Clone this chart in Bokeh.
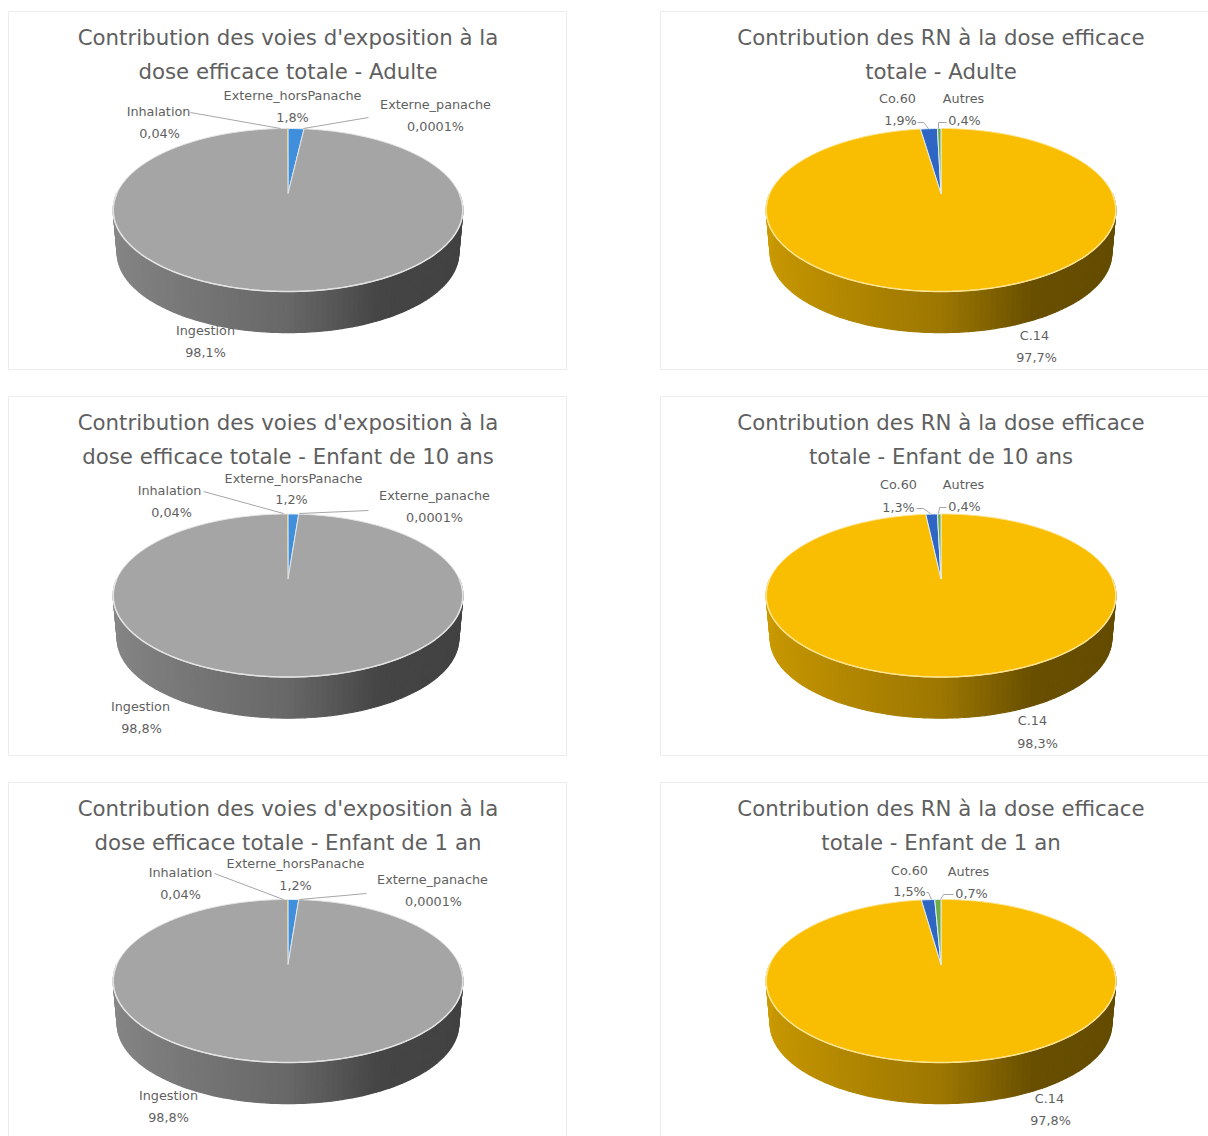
import math

from bokeh.core.properties import value
from bokeh.embed import file_html
from bokeh.models import ColumnDataSource, Range1d
from bokeh.plotting import figure
from bokeh.resources import INLINE

# ---- data -----------------------------------------------------------------
voies = ["Externe_horsPanache", "Externe_panache", "Ingestion", "Inhalation"]
voies_adulte = [1.8, 0.0001, 98.1, 0.04]
voies_enfant10 = [1.2, 0.0001, 98.8, 0.04]
voies_enfant1 = [1.2, 0.0001, 98.8, 0.04]
voies_couleurs = ["#3f8fdc", "#ed7d31", "#a5a5a5", "#ffc000"]

rn = ["C.14", "Co.60", "Autres"]
rn_adulte = [97.7, 1.9, 0.4]
rn_enfant10 = [98.3, 1.3, 0.4]
rn_enfant1 = [97.8, 1.5, 0.7]
rn_couleurs = ["#f9bd02", "#2f66c4", "#70ad47"]

titres_voies = [
    ("Contribution des voies d'exposition à la", "dose efficace totale - Adulte"),
    ("Contribution des voies d'exposition à la", "dose efficace totale - Enfant de 10 ans"),
    ("Contribution des voies d'exposition à la", "dose efficace totale - Enfant de 1 an"),
]
titres_rn = [
    ("Contribution des RN à la dose efficace", "totale - Adulte"),
    ("Contribution des RN à la dose efficace", "totale - Enfant de 10 ans"),
    ("Contribution des RN à la dose efficace", "totale - Enfant de 1 an"),
]

# ---- layout ---------------------------------------------------------------
W, H = 1208, 1136
ROW_DY = [0, 385.5, 771]
TITLE_Y = [[37, 71], [422, 456], [808, 842]]
COL_VOIES = dict(cx=287.5, x0=8, x1=566)
COL_RN = dict(cx=940.5, x0=660, x1=1208)
PANEL_Y = [(11, 369), (396, 755), (782, 1136)]

# label anchors per row: name -> (x, name y, x of the value, value y)
LABELS_VOIES = [
    {"Inhalation": (158, 111, 159, 133), "Externe_horsPanache": (292, 95, 292, 117),
     "Externe_panache": (435, 104, 435, 126), "Ingestion": (205, 330, 205, 352)},
    {"Inhalation": (169, 490, 171, 512), "Externe_horsPanache": (293, 478, 291, 499),
     "Externe_panache": (434, 495, 434, 517), "Ingestion": (140, 706, 141, 728)},
    {"Inhalation": (180, 872, 180, 894), "Externe_horsPanache": (295, 863, 295, 885),
     "Externe_panache": (432, 879, 433, 901), "Ingestion": (168, 1095, 168, 1117)},
]
LABELS_RN = [
    {"Co.60": (897, 98, 900, 120), "Autres": (963, 98, 964, 120), "C.14": (1034, 335, 1036, 357)},
    {"Co.60": (898, 484, 898, 507), "Autres": (963, 484, 964, 506), "C.14": (1032, 720, 1037, 743)},
    {"Co.60": (909, 870, 909, 891), "Autres": (968, 871, 971, 893), "C.14": (1049, 1098, 1050, 1120)},
]
LEADERS_VOIES = [
    [([190, 280], [112, 128]), ([368, 303], [117, 128])],
    [([203, 283], [491, 513]), ([368, 299], [510, 513])],
    [([214, 283], [873, 899]), ([366, 299], [893, 899])],
]
LEADERS_RN = [
    [([917, 923, 928], [122, 122, 128]), ([946, 938, 938], [122, 122, 128])],
    [([916, 923, 930], [508, 508, 513]), ([946, 939, 938], [507, 507, 513])],
    [([926, 928, 931], [892, 892, 899]), ([953, 943, 940], [894, 894, 899])],
]

TEXT_COLOR = "#5f5f5f"
FONT = "DejaVu Sans"

# ---- perspective disc ------------------------------------------------------
APEX_Y = 193.0
PERSP = 0.2025
DEPTH = 39.1
HALF = 171.2
SIDE_SCALE = 0.977
SIDE_DROP = 43.0
MID_Y = 209.5
SIDE_STOPS = [(0.0, 0.82), (0.5, 0.63), (0.72, 0.42), (1.0, 0.40)]


def rim(theta, cx, dy):
    """Project an angle, clockwise from twelve o'clock, onto the tilted disc."""
    u, v = math.sin(theta), math.cos(theta)
    w = 1 + PERSP * v
    return cx + HALF * u / w, (APEX_Y - DEPTH * v) / w + dy


def shade(base, factor):
    r, g, b = (int(base[i:i + 2], 16) for i in (1, 3, 5))
    return "#%02x%02x%02x" % (int(r * factor), int(g * factor), int(b * factor))


def side_factor(t):
    for (t0, f0), (t1, f1) in zip(SIDE_STOPS, SIDE_STOPS[1:]):
        if t <= t1:
            return f0 + (f1 - f0) * (t - t0) / (t1 - t0)
    return SIDE_STOPS[-1][1]


def fmt(v):
    return f"{v:g}".replace(".", ",") + "%"


p = figure(width=W, height=H, output_backend="svg", toolbar_location=None,
           x_range=Range1d(0, W), y_range=Range1d(H, 0), min_border=0)
p.axis.visible = False
p.grid.visible = False
p.outline_line_color = None
p.background_fill_color = "white"
p.border_fill_color = "white"


def draw_pie(names, values, colors, cx, dy, labels, leaders, titles, title_y, col, panel, rim_tint):
    # panel frame: the right column runs off the page, the last row too
    x0, x1 = col["x0"], col["x1"]
    y0, y1 = panel
    p.quad(left=[x0], right=[x1], top=[y0], bottom=[y1], fill_color="white",
           line_color="#ececec", line_width=1)

    total = sum(values)
    big = max(range(len(values)), key=lambda i: values[i])

    # front wall of the disc, split into narrow shaded strips
    xs, ys, fills = [], [], []
    steps = 120
    for i in range(steps):
        a0 = math.pi / 2 + math.pi * i / steps
        a1 = math.pi / 2 + math.pi * (i + 1) / steps
        (xa, ya), (xb, yb) = rim(a0, cx, dy), rim(a1, cx, dy)
        low = [(cx + (x - cx) * SIDE_SCALE, dy + MID_Y + (y - dy - MID_Y) * SIDE_SCALE + SIDE_DROP)
               for x, y in ((xa, ya), (xb, yb))]
        xs.append([xa, xb, low[1][0], low[0][0]])
        ys.append([ya, yb, low[1][1], low[0][1]])
        t = (math.sin((a0 + a1) / 2) + 1) / 2
        fills.append(shade(colors[big], side_factor(t)))
    p.patches(xs, ys, fill_color=fills, line_color=fills, line_width=1.2)

    # top face, one polygon per slice
    start = 0.0
    for name, v, color in zip(names, values, colors):
        a0 = start / total * 2 * math.pi
        a1 = (start + v) / total * 2 * math.pi
        start += v
        n = max(2, int((a1 - a0) / (2 * math.pi) * 360))
        pts = [rim(a0 + (a1 - a0) * k / n, cx, dy) for k in range(n + 1)]
        px = [cx] + [q[0] for q in pts]
        py = [APEX_Y + dy] + [q[1] for q in pts]
        lw = 1.0 if v >= 0.3 else 0.0
        p.patch(px, py, fill_color=color, line_color=rim_tint if v >= 10 else "#dfeefa",
                line_width=lw, line_alpha=1 if v >= 0.3 else 0)

    # pale edge between the top face and the wall
    edge = [rim(math.pi / 2 + math.pi * k / 120, cx, dy) for k in range(121)]
    p.line([q[0] for q in edge], [q[1] for q in edge], line_color=rim_tint, line_width=1.5)

    for lx, ly in leaders:
        p.line(lx, ly, line_color="#a6a6a6", line_width=1)

    # titles
    p.text(x=[cx, cx], y=title_y, text=list(titles),
           text_font=value(FONT), text_font_size="21.3px", text_color=TEXT_COLOR,
           text_align="center", text_baseline="middle")

    # slice names and percentages
    src = dict(x=[], y=[], text=[])
    for name, v in zip(names, values):
        nx, ny, vx, vy = labels[name]
        src["x"] += [nx, vx]
        src["y"] += [ny, vy]
        src["text"] += [name, fmt(v)]
    p.text(x="x", y="y", text="text", source=ColumnDataSource(src),
           text_font=value(FONT), text_font_size="12.8px", text_color=TEXT_COLOR,
           text_align="center", text_baseline="middle")


for row, vals in enumerate([voies_adulte, voies_enfant10, voies_enfant1]):
    draw_pie(voies, vals, voies_couleurs, COL_VOIES["cx"], ROW_DY[row], LABELS_VOIES[row],
             LEADERS_VOIES[row], titres_voies[row], TITLE_Y[row], COL_VOIES, PANEL_Y[row], "#e4e4e4")

for row, vals in enumerate([rn_adulte, rn_enfant10, rn_enfant1]):
    draw_pie(rn, vals, rn_couleurs, COL_RN["cx"], ROW_DY[row], LABELS_RN[row],
             LEADERS_RN[row], titres_rn[row], TITLE_Y[row], COL_RN, PANEL_Y[row], "#ffe48f")

open("out.html", "w").write(file_html(p, INLINE))
